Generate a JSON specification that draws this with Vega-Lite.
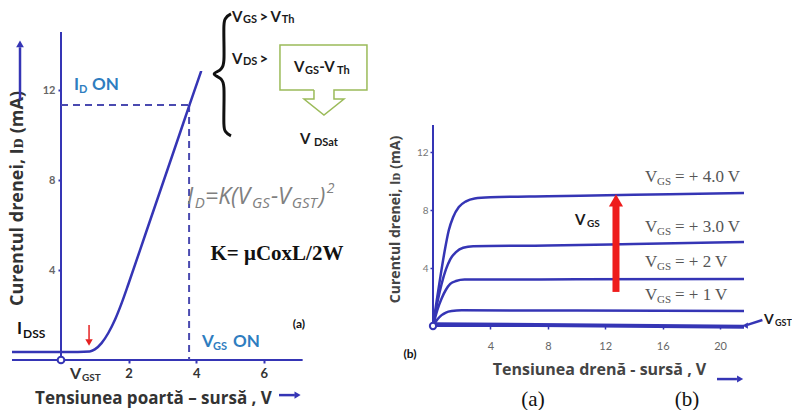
{
  "$schema": "https://vega.github.io/schema/vega-lite/v6.json",
  "background": "white",
  "padding": {"left": 6, "top": 7, "right": 0, "bottom": 0},
  "config": {"view": {"stroke": null}, "text": {"font": "Lato", "align": "left", "baseline": "middle"}},
  "bounds": "flush",
  "spacing": 129,
  "datasets": {
    "aCurve": [
      {"x": -1.45, "y": 0.36}, {"x": 0.5, "y": 0.36}, {"x": 0.85, "y": 0.38}, {"x": 1.0, "y": 0.47},
      {"x": 1.2, "y": 0.75}, {"x": 1.4, "y": 1.2}, {"x": 1.6, "y": 1.8}, {"x": 1.8, "y": 2.55},
      {"x": 2.0, "y": 3.4}, {"x": 2.5, "y": 5.6}, {"x": 3.0, "y": 7.8}, {"x": 3.5, "y": 10.0},
      {"x": 3.8, "y": 11.33}, {"x": 4.15, "y": 12.85}
    ],
    "aRules": [
      {"g": "axis", "x": -1.45, "x2": 7.15, "y": 0, "y2": 0},
      {"g": "axis", "x": 0, "x2": 0, "y": 0, "y2": 14.58},
      {"g": "dash", "x": 0, "x2": 3.79, "y": 11.33, "y2": 11.33},
      {"g": "dash", "x": 3.79, "x2": 3.79, "y": 11.33, "y2": 0},
      {"g": "red", "x": 0.83, "x2": 0.83, "y": 1.56, "y2": 0.9},
      {"g": "arrow", "x": -1.213, "x2": -1.213, "y": 11.56, "y2": 13.9},
      {"g": "arrow", "x": 6.45, "x2": 6.92, "y": -1.56, "y2": -1.56}
    ],
    "aHeads": [
      {"g": "down", "x": 0.83, "y": 0.78},
      {"g": "up", "x": -1.213, "y": 14.05},
      {"g": "right", "x": 7.0, "y": -1.56}
    ],
    "origin": [{"x": 0, "y": 0}],
    "brace": [
      {"i": 1, "x": 5.03, "y": 15.38}, {"i": 2, "x": 4.88, "y": 15.2}, {"i": 3, "x": 4.82, "y": 14.84},
      {"i": 4, "x": 4.82, "y": 13.33}, {"i": 5, "x": 4.73, "y": 12.93}, {"i": 6, "x": 4.53, "y": 12.71},
      {"i": 7, "x": 4.73, "y": 12.49}, {"i": 8, "x": 4.82, "y": 12.09}, {"i": 9, "x": 4.82, "y": 10.49},
      {"i": 10, "x": 4.88, "y": 10.13}, {"i": 11, "x": 5.03, "y": 9.96}
    ],
    "box": [
      {"i": 1, "x": 7.485, "y": 12.0}, {"i": 2, "x": 6.479, "y": 12.0}, {"i": 3, "x": 6.479, "y": 14.0},
      {"i": 4, "x": 9.053, "y": 14.0}, {"i": 5, "x": 9.053, "y": 12.0}, {"i": 6, "x": 8.077, "y": 12.0},
      {"i": 7, "x": 8.077, "y": 11.6}, {"i": 8, "x": 8.373, "y": 11.6}, {"i": 9, "x": 7.781, "y": 10.89},
      {"i": 10, "x": 7.189, "y": 11.6}, {"i": 11, "x": 7.485, "y": 11.6}, {"i": 12, "x": 7.485, "y": 12.0}
    ],
    "aText": [
      {"g": "blueBig", "x": 0.385, "y": 12.22, "t": "I"},
      {"g": "blueBig", "x": 0.917, "y": 12.22, "t": "ON"},
      {"g": "blueBig", "x": 4.172, "y": 0.8, "t": "V"},
      {"g": "blueBig", "x": 5.09, "y": 0.8, "t": "ON"},
      {"g": "blueSub", "x": 0.533, "y": 12.0, "t": "D"},
      {"g": "blueSub", "x": 4.497, "y": 0.6, "t": "GS"},
      {"g": "blackBig", "x": -1.302, "y": 1.38, "t": "I"},
      {"g": "blackSub", "x": -1.124, "y": 1.16, "t": "DSS"},
      {"g": "axBig", "x": 0.266, "y": -0.62, "t": "V"},
      {"g": "axSub", "x": 0.621, "y": -0.8, "t": "GST"},
      {"g": "fBig", "x": 3.728, "y": 7.24, "t": "I"},
      {"g": "fBig", "x": 4.26, "y": 7.24, "t": "=K(V"},
      {"g": "fBig", "x": 6.21, "y": 7.24, "t": "-V"},
      {"g": "fBig", "x": 7.63, "y": 7.24, "t": ")"},
      {"g": "fSub", "x": 3.96, "y": 6.96, "t": "D"},
      {"g": "fSub", "x": 5.65, "y": 6.96, "t": "GS"},
      {"g": "fSub", "x": 6.83, "y": 6.96, "t": "GST"},
      {"g": "fSup", "x": 7.86, "y": 7.62, "t": "2"},
      {"g": "kform", "x": 6.39, "y": 4.71, "t": "K= μCoxL/2W"},
      {"g": "label", "x": 7.04, "y": 1.6, "t": "(a)"},
      {"g": "topBig", "x": 5.059, "y": 15.24, "t": "V"},
      {"g": "topBig", "x": 5.87, "y": 15.24, "t": ">"},
      {"g": "topBig", "x": 6.2, "y": 15.24, "t": "V"},
      {"g": "topBig", "x": 5.059, "y": 13.38, "t": "V"},
      {"g": "topBig", "x": 5.87, "y": 13.38, "t": ">"},
      {"g": "topBig", "x": 6.893, "y": 13.02, "t": "V"},
      {"g": "topBig", "x": 7.64, "y": 13.02, "t": "-V"},
      {"g": "topBig", "x": 7.071, "y": 9.82, "t": "V"},
      {"g": "topSub", "x": 5.385, "y": 15.1, "t": "GS"},
      {"g": "topSub", "x": 6.53, "y": 15.1, "t": "Th"},
      {"g": "topSub", "x": 5.385, "y": 13.24, "t": "DS"},
      {"g": "topSub", "x": 7.219, "y": 12.86, "t": "GS"},
      {"g": "topSub", "x": 8.17, "y": 12.86, "t": "Th"},
      {"g": "topSub", "x": 7.485, "y": 9.66, "t": "DSat"}
    ],
    "bCurves": [
      {"s": "VGST", "x": 0, "y": 0.12}, {"s": "VGST", "x": 21.67, "y": -0.05},
      {"s": "1", "x": 0, "y": 0}, {"s": "1", "x": 0.3, "y": 0.45}, {"s": "1", "x": 0.6, "y": 0.75}, {"s": "1", "x": 0.9, "y": 0.93}, {"s": "1", "x": 1.3, "y": 1.03}, {"s": "1", "x": 2.0, "y": 1.08}, {"s": "1", "x": 10, "y": 1.07}, {"s": "1", "x": 21.67, "y": 1.03},
      {"s": "2", "x": 0, "y": 0}, {"s": "2", "x": 0.3, "y": 1.1}, {"s": "2", "x": 0.6, "y": 1.9}, {"s": "2", "x": 0.9, "y": 2.5}, {"s": "2", "x": 1.2, "y": 2.9}, {"s": "2", "x": 1.6, "y": 3.1}, {"s": "2", "x": 2.2, "y": 3.2}, {"s": "2", "x": 10, "y": 3.22}, {"s": "2", "x": 21.67, "y": 3.25},
      {"s": "3", "x": 0, "y": 0}, {"s": "3", "x": 0.3, "y": 1.6}, {"s": "3", "x": 0.6, "y": 2.9}, {"s": "3", "x": 0.9, "y": 3.9}, {"s": "3", "x": 1.2, "y": 4.6}, {"s": "3", "x": 1.6, "y": 5.1}, {"s": "3", "x": 2.1, "y": 5.4}, {"s": "3", "x": 2.8, "y": 5.5}, {"s": "3", "x": 8, "y": 5.55}, {"s": "3", "x": 14, "y": 5.65}, {"s": "3", "x": 21.67, "y": 5.8},
      {"s": "4", "x": 0, "y": 0}, {"s": "4", "x": 0.25, "y": 1.7}, {"s": "4", "x": 0.5, "y": 3.3}, {"s": "4", "x": 0.8, "y": 5.1}, {"s": "4", "x": 1.1, "y": 6.6}, {"s": "4", "x": 1.4, "y": 7.5}, {"s": "4", "x": 1.8, "y": 8.2}, {"s": "4", "x": 2.3, "y": 8.6}, {"s": "4", "x": 2.9, "y": 8.8}, {"s": "4", "x": 4, "y": 8.88}, {"s": "4", "x": 8, "y": 8.95}, {"s": "4", "x": 14, "y": 9.05}, {"s": "4", "x": 21.67, "y": 9.17}
    ],
    "bRules": [
      {"g": "axis", "x": 0, "x2": 21.67, "y": 0, "y2": 0},
      {"g": "axis", "x": 0, "x2": 0, "y": 0, "y2": 13.86},
      {"g": "red", "x": 12.75, "x2": 12.75, "y": 2.35, "y2": 8.3},
      {"g": "arrow", "x": 19.79, "x2": 21.18, "y": -3.66, "y2": -3.66},
      {"g": "arrow", "x": 22.95, "x2": 21.9, "y": 0.41, "y2": 0.08}
    ],
    "bHeads": [
      {"g": "redUp", "x": 12.75, "y": 8.66},
      {"g": "right", "x": 21.4, "y": -3.66},
      {"g": "left", "x": 21.75, "y": 0.03}
    ],
    "bText": [
      {"g": "cBig", "x": 14.77, "y": 10.28, "t": "V"},
      {"g": "cBig", "x": 16.86, "y": 10.28, "t": "= + 4.0 V"},
      {"g": "cBig", "x": 14.77, "y": 6.83, "t": "V"},
      {"g": "cBig", "x": 16.86, "y": 6.83, "t": "= + 3.0 V"},
      {"g": "cBig", "x": 14.77, "y": 4.41, "t": "V"},
      {"g": "cBig", "x": 16.86, "y": 4.41, "t": "= + 2 V"},
      {"g": "cBig", "x": 14.77, "y": 2.14, "t": "V"},
      {"g": "cBig", "x": 16.86, "y": 2.14, "t": "= + 1 V"},
      {"g": "cSub", "x": 15.61, "y": 9.93, "t": "GS"},
      {"g": "cSub", "x": 15.61, "y": 6.48, "t": "GS"},
      {"g": "cSub", "x": 15.61, "y": 4.07, "t": "GS"},
      {"g": "cSub", "x": 15.61, "y": 1.79, "t": "GS"},
      {"g": "big", "x": 9.9, "y": 7.31, "t": "V"},
      {"g": "sub", "x": 10.73, "y": 7.05, "t": "GS"},
      {"g": "bigR", "x": 23.07, "y": 0.41, "t": "V"},
      {"g": "subR", "x": 23.83, "y": 0.2, "t": "GST"},
      {"g": "label", "x": -1.6, "y": -1.93, "t": "(b)"},
      {"g": "caption", "x": 6.97, "y": -5.1, "t": "(a)"},
      {"g": "caption", "x": 17.7, "y": -5.1, "t": "(b)"}
    ]
  },
  "hconcat": [
    {
      "width": 243,
      "height": 315,
      "encoding": {
        "x": {"field": "x", "type": "quantitative", "scale": {"domain": [0, 7.19], "nice": false, "zero": false},
          "axis": {"values": [2, 4, 6], "domain": false, "grid": false, "tickColor": "#3535b5", "tickSize": 3, "tickWidth": 2,
            "labelFont": "Lato", "labelFontWeight": "bold", "labelFontSize": 13, "labelColor": "#333", "labelPadding": 4,
            "title": "Tensiunea poartă – sursă , V", "titleFont": "Open Sans", "titleFontSize": 17, "titleFontWeight": "bold", "titleColor": "#333",
            "titleX": 92, "titleY": 38, "titleBaseline": "middle", "titleAlign": "center"}},
        "y": {"field": "y", "type": "quantitative", "scale": {"domain": [0, 14], "nice": false, "zero": false},
          "axis": {"values": [4, 8, 12], "domain": false, "grid": false, "tickColor": "#3535b5", "tickSize": 3, "tickWidth": 2,
            "labelFont": "Lato", "labelFontWeight": "bold", "labelFontSize": 11, "labelColor": "#666", "labelPadding": 3,
            "title": "Curentul drenei, Iᴅ (mA)", "titleFont": "Open Sans", "titleFontSize": 18, "titleFontWeight": "bold", "titleColor": "#333",
            "titleX": -44, "titleY": 153, "titleBaseline": "middle", "titleAlign": "center", "titleAngle": -90}}
      },
      "layer": [
        {"data": {"name": "aRules"}, "transform": [{"filter": "datum.g == 'axis'"}], "mark": {"type": "rule", "color": "#3535b5", "strokeWidth": 2}, "encoding": {"x2": {"field": "x2"}, "y2": {"field": "y2"}}},
        {"data": {"name": "aRules"}, "transform": [{"filter": "datum.g == 'dash'"}], "mark": {"type": "rule", "color": "#4a4ab0", "strokeWidth": 2, "strokeDash": [7, 5]}, "encoding": {"x2": {"field": "x2"}, "y2": {"field": "y2"}}},
        {"data": {"name": "aCurve"}, "mark": {"type": "line", "color": "#3535b5", "strokeWidth": 2.5, "interpolate": "monotone"}, "encoding": {}},
        {"data": {"name": "aRules"}, "transform": [{"filter": "datum.g == 'red'"}], "mark": {"type": "rule", "color": "#e52222", "strokeWidth": 1.5}, "encoding": {"x2": {"field": "x2"}, "y2": {"field": "y2"}}},
        {"data": {"name": "aRules"}, "transform": [{"filter": "datum.g == 'arrow'"}], "mark": {"type": "rule", "color": "#3535b5", "strokeWidth": 2.5}, "encoding": {"x2": {"field": "x2"}, "y2": {"field": "y2"}}},
        {"data": {"name": "aHeads"}, "transform": [{"filter": "datum.g == 'down'"}], "mark": {"type": "point", "shape": "triangle-down", "filled": true, "opacity": 1, "size": 55, "color": "#e52222"}, "encoding": {}},
        {"data": {"name": "aHeads"}, "transform": [{"filter": "datum.g == 'up'"}], "mark": {"type": "point", "shape": "triangle-up", "filled": true, "opacity": 1, "size": 60, "color": "#3535b5"}, "encoding": {}},
        {"data": {"name": "aHeads"}, "transform": [{"filter": "datum.g == 'right'"}], "mark": {"type": "point", "shape": "triangle-right", "filled": true, "opacity": 1, "size": 50, "color": "#3535b5"}, "encoding": {}},
        {"data": {"name": "origin"}, "mark": {"type": "point", "shape": "circle", "filled": true, "fill": "white", "stroke": "#3535b5", "strokeWidth": 2, "opacity": 1, "size": 45}, "encoding": {}},
        {"data": {"name": "brace"}, "mark": {"type": "line", "color": "#111", "strokeWidth": 3, "interpolate": "cardinal"}, "encoding": {"order": {"field": "i"}}},
        {"data": {"name": "box"}, "mark": {"type": "line", "color": "#9bbb59", "strokeWidth": 1.5, "interpolate": "linear"}, "encoding": {"order": {"field": "i"}}},
        {"data": {"name": "aText"}, "transform": [{"filter": "datum.g == 'blueBig'"}], "mark": {"type": "text", "fontSize": 17, "fontWeight": "bold", "color": "#2e7dc0"}, "encoding": {"text": {"field": "t"}}},
        {"data": {"name": "aText"}, "transform": [{"filter": "datum.g == 'blueSub'"}], "mark": {"type": "text", "fontSize": 11, "fontWeight": "bold", "color": "#2e7dc0"}, "encoding": {"text": {"field": "t"}}},
        {"data": {"name": "aText"}, "transform": [{"filter": "datum.g == 'blackBig'"}], "mark": {"type": "text", "fontSize": 17, "fontWeight": "bold", "color": "#111"}, "encoding": {"text": {"field": "t"}}},
        {"data": {"name": "aText"}, "transform": [{"filter": "datum.g == 'blackSub'"}], "mark": {"type": "text", "fontSize": 12, "fontWeight": "bold", "color": "#111"}, "encoding": {"text": {"field": "t"}}},
        {"data": {"name": "aText"}, "transform": [{"filter": "datum.g == 'axBig'"}], "mark": {"type": "text", "fontSize": 16, "fontWeight": "bold", "color": "#333"}, "encoding": {"text": {"field": "t"}}},
        {"data": {"name": "aText"}, "transform": [{"filter": "datum.g == 'axSub'"}], "mark": {"type": "text", "fontSize": 10, "fontWeight": "bold", "color": "#333"}, "encoding": {"text": {"field": "t"}}},
        {"data": {"name": "aText"}, "transform": [{"filter": "datum.g == 'fBig'"}], "mark": {"type": "text", "fontSize": 23, "fontStyle": "italic", "font": "Open Sans", "color": "#808080"}, "encoding": {"text": {"field": "t"}}},
        {"data": {"name": "aText"}, "transform": [{"filter": "datum.g == 'fSub'"}], "mark": {"type": "text", "fontSize": 15, "fontStyle": "italic", "font": "Open Sans", "color": "#808080"}, "encoding": {"text": {"field": "t"}}},
        {"data": {"name": "aText"}, "transform": [{"filter": "datum.g == 'fSup'"}], "mark": {"type": "text", "fontSize": 14, "fontStyle": "italic", "font": "Open Sans", "color": "#808080"}, "encoding": {"text": {"field": "t"}}},
        {"data": {"name": "aText"}, "transform": [{"filter": "datum.g == 'kform'"}], "mark": {"type": "text", "fontSize": 21, "fontWeight": "bold", "font": "Liberation Serif", "align": "center", "color": "#111"}, "encoding": {"text": {"field": "t"}}},
        {"data": {"name": "aText"}, "transform": [{"filter": "datum.g == 'label'"}], "mark": {"type": "text", "fontSize": 12, "fontWeight": "bold", "align": "center", "color": "#111"}, "encoding": {"text": {"field": "t"}}},
        {"data": {"name": "aText"}, "transform": [{"filter": "datum.g == 'topBig'"}], "mark": {"type": "text", "fontSize": 15, "fontWeight": "bold", "color": "#1a1a1a"}, "encoding": {"text": {"field": "t"}}},
        {"data": {"name": "aText"}, "transform": [{"filter": "datum.g == 'topSub'"}], "mark": {"type": "text", "fontSize": 11, "fontWeight": "bold", "color": "#1a1a1a"}, "encoding": {"text": {"field": "t"}}}
      ]
    },
    {
      "width": 311,
      "height": 281,
      "encoding": {
        "x": {"field": "x", "type": "quantitative", "scale": {"domain": [0, 21.67], "nice": false, "zero": false},
          "axis": {"values": [4, 8, 12, 16, 20], "domain": false, "grid": false, "tickColor": "#3535b5", "tickSize": 3, "tickWidth": 1.5,
            "labelFont": "Lato", "labelFontSize": 11, "labelColor": "#666", "labelPadding": 11,
            "title": "Tensiunea drenă - sursă  , V", "titleFont": "Open Sans", "titleFontSize": 16, "titleFontWeight": "bold", "titleColor": "#444",
            "titleX": 166, "titleY": 43, "titleBaseline": "middle", "titleAlign": "center"}},
        "y": {"field": "y", "type": "quantitative", "scale": {"domain": [0, 19.38], "nice": false, "zero": false},
          "axis": {"values": [4, 8, 12], "domain": false, "grid": false, "tickColor": "#3535b5", "tickSize": 3, "tickWidth": 1.5,
            "labelFont": "Lato", "labelFontSize": 10, "labelColor": "#777", "labelPadding": 2,
            "title": "Curentul drenei, Iᴅ (mA)", "titleFont": "Open Sans", "titleFontSize": 14, "titleFontWeight": "bold", "titleColor": "#444",
            "titleX": -38, "titleY": 174, "titleBaseline": "middle", "titleAlign": "center", "titleAngle": -90}}
      },
      "layer": [
        {"data": {"name": "bRules"}, "transform": [{"filter": "datum.g == 'axis'"}], "mark": {"type": "rule", "color": "#3535b5", "strokeWidth": 2}, "encoding": {"x2": {"field": "x2"}, "y2": {"field": "y2"}}},
        {"data": {"name": "bCurves"}, "transform": [{"filter": "datum.s != 'VGST'"}], "mark": {"type": "line", "color": "#3535b5", "strokeWidth": 2.5, "interpolate": "monotone"}, "encoding": {"detail": {"field": "s"}}},
        {"data": {"name": "bCurves"}, "transform": [{"filter": "datum.s == 'VGST'"}], "mark": {"type": "line", "color": "#3535b5", "strokeWidth": 4}, "encoding": {}},
        {"data": {"name": "origin"}, "mark": {"type": "point", "shape": "circle", "filled": true, "fill": "white", "stroke": "#3535b5", "strokeWidth": 2, "opacity": 1, "size": 40}, "encoding": {}},
        {"data": {"name": "bRules"}, "transform": [{"filter": "datum.g == 'red'"}], "mark": {"type": "rule", "color": "#ee1c1c", "strokeWidth": 7}, "encoding": {"x2": {"field": "x2"}, "y2": {"field": "y2"}}},
        {"data": {"name": "bRules"}, "transform": [{"filter": "datum.g == 'arrow'"}], "mark": {"type": "rule", "color": "#3535b5", "strokeWidth": 2.5}, "encoding": {"x2": {"field": "x2"}, "y2": {"field": "y2"}}},
        {"data": {"name": "bHeads"}, "transform": [{"filter": "datum.g == 'redUp'"}], "mark": {"type": "point", "shape": "triangle-up", "filled": true, "opacity": 1, "size": 200, "color": "#ee1c1c"}, "encoding": {}},
        {"data": {"name": "bHeads"}, "transform": [{"filter": "datum.g == 'right'"}], "mark": {"type": "point", "shape": "triangle-right", "filled": true, "opacity": 1, "size": 50, "color": "#3535b5"}, "encoding": {}},
        {"data": {"name": "bHeads"}, "transform": [{"filter": "datum.g == 'left'"}], "mark": {"type": "point", "shape": "triangle-left", "filled": true, "opacity": 1, "size": 40, "color": "#3535b5"}, "encoding": {}},
        {"data": {"name": "bText"}, "transform": [{"filter": "datum.g == 'cBig'"}], "mark": {"type": "text", "fontSize": 17, "font": "Liberation Serif", "color": "#555"}, "encoding": {"text": {"field": "t"}}},
        {"data": {"name": "bText"}, "transform": [{"filter": "datum.g == 'cSub'"}], "mark": {"type": "text", "fontSize": 11, "font": "Liberation Serif", "color": "#555"}, "encoding": {"text": {"field": "t"}}},
        {"data": {"name": "bText"}, "transform": [{"filter": "datum.g == 'big'"}], "mark": {"type": "text", "fontSize": 15, "fontWeight": "bold", "color": "#1a1a1a"}, "encoding": {"text": {"field": "t"}}},
        {"data": {"name": "bText"}, "transform": [{"filter": "datum.g == 'sub'"}], "mark": {"type": "text", "fontSize": 10, "fontWeight": "bold", "color": "#1a1a1a"}, "encoding": {"text": {"field": "t"}}},
        {"data": {"name": "bText"}, "transform": [{"filter": "datum.g == 'bigR'"}], "mark": {"type": "text", "fontSize": 14, "fontWeight": "bold", "color": "#1a1a1a"}, "encoding": {"text": {"field": "t"}}},
        {"data": {"name": "bText"}, "transform": [{"filter": "datum.g == 'subR'"}], "mark": {"type": "text", "fontSize": 9, "fontWeight": "bold", "color": "#1a1a1a"}, "encoding": {"text": {"field": "t"}}},
        {"data": {"name": "bText"}, "transform": [{"filter": "datum.g == 'label'"}], "mark": {"type": "text", "fontSize": 12, "fontWeight": "bold", "align": "center", "color": "#111"}, "encoding": {"text": {"field": "t"}}},
        {"data": {"name": "bText"}, "transform": [{"filter": "datum.g == 'caption'"}], "mark": {"type": "text", "fontSize": 21, "font": "Liberation Serif", "align": "center", "color": "#111"}, "encoding": {"text": {"field": "t"}}}
      ]
    }
  ]
}
